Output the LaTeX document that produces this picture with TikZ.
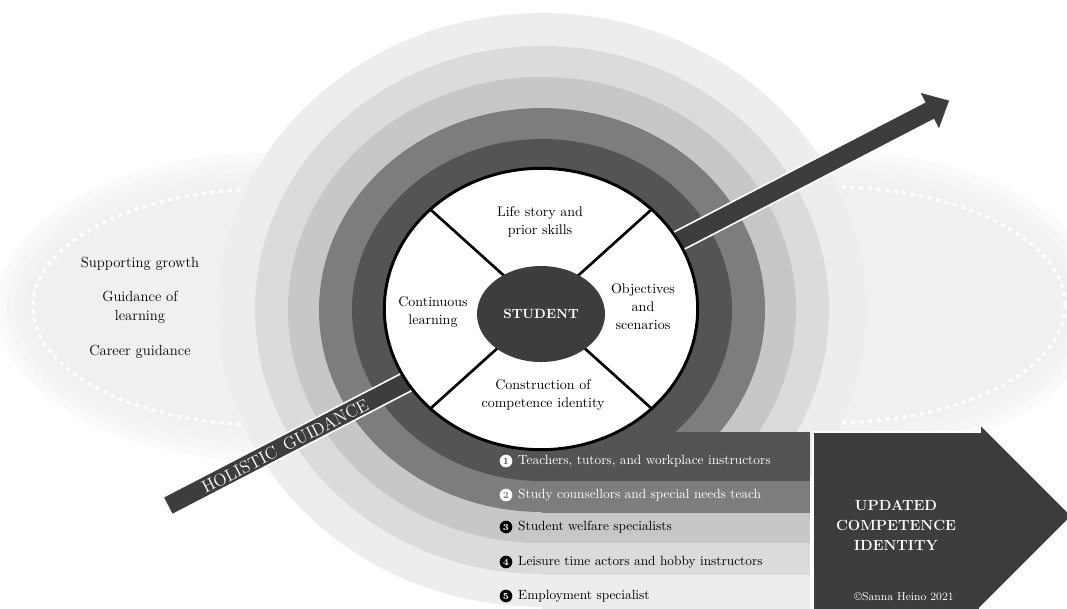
\documentclass[tikz,border=0pt]{standalone}
\usetikzlibrary{positioning, shapes.geometric}
\definecolor{ringA}{gray}{0.33}
\definecolor{ringB}{gray}{0.49}
\definecolor{ringC}{gray}{0.78}
\definecolor{ringD}{gray}{0.86}
\definecolor{ringE}{gray}{0.93}
\definecolor{inkdark}{gray}{0.24}
\definecolor{haze}{gray}{0.93}

\begin{document}
\begin{tikzpicture}[x = 0.75pt, y = -0.75pt,
        cloud/.style = {fill = haze, opacity = 0.3},
        dots/.style = {draw = white, line width = 2.4pt, dash pattern = on 3pt off 3.5pt},
        spoke/.style = {line width = 2pt},
        txt/.style = {align = center, inner sep = 0pt, font = \fontsize{10.5}{13.5}\selectfont},
        num/.style = {circle, fill = #1, inner sep = 0pt, minimum size = 9.5pt, font = \fontsize{7}{7}\selectfont\bfseries},
        role/.style = {anchor = west, inner sep = 0pt, font = \fontsize{10}{12}\selectfont}]

    \useasboundingbox (0, 0) rectangle (1067, 608);

    % hazy ovals left and right
    \foreach \cx/\cy in {268/307, 830/305}{
        \foreach \d in {36, 27, 18, 9, 0}
            \fill[cloud] (\cx, \cy) ellipse [x radius = 235 + \d, y radius = 118 + \d];
        \draw[dots] (\cx, \cy) ellipse [x radius = 235, y radius = 118];
    }

    % rings, each one running out into a band
    \foreach \tone/\rx/\ry/\bot in {ringE/324/297/612, ringD/287/264/575, ringC/254/233/543, ringB/223/202/513, ringA/190/171/481}{
        \fill[\tone] (542, 310) ellipse [x radius = \rx, y radius = \ry];
        \fill[\tone] (542, 432) rectangle (810, \bot);
    }

    % holistic guidance arrow
    \fill[inkdark, draw = white, line width = 1.2pt] (162.9, 497.1) -- (924.4, 102.1) -- (918.9, 91.5) -- (950.3, 100) -- (939.1, 130.5) -- (933.6, 119.9) -- (172.1, 514.9) -- cycle;
    \node[rotate = 27.4, text = white, inner sep = 0pt, font = \fontsize{13}{13}\selectfont] (holistic) at (285, 446) {HOLISTIC\enspace GUIDANCE};

    % wheel
    \node[ellipse, draw, fill = white, line width = 2.2pt, minimum width = 235pt, minimum height = 211pt, inner sep = 0pt] (wheel) at (541, 309) {};
    \foreach \a in {42, 138, 222, 318}
        \draw[spoke] (wheel.center) -- (wheel.\a);
    \node[ellipse, fill = inkdark, text = white, minimum width = 96pt, minimum height = 72pt, font = \fontsize{10}{12}\selectfont\bfseries] (student) at (541, 314) {STUDENT};

    \node[txt] (life) at (540, 222) {Life story and\\prior skills};
    \node[txt] (cont) at (433, 312) {Continuous\\learning};
    \node[txt] (obj) at (643, 307) {Objectives\\and\\scenarios};
    \node[txt] (constr) at (543, 395) {Construction of\\competence identity};

    % guidance forms
    \node[txt, font = \fontsize{11}{14}\selectfont] (growth) at (140, 264) {Supporting growth};
    \node[txt, font = \fontsize{11}{14}\selectfont] (guide) at (140, 307) {Guidance of\\learning};
    \node[txt, font = \fontsize{11}{14}\selectfont] (career) at (140, 352) {Career guidance};

    % actors
    \node[num = white, text = ringA] (n1) at (506, 461) {1};
    \node[num = white, text = ringB] (n2) at (506, 495) {2};
    \node[num = black, text = white] (n3) at (506, 527) {3};
    \node[num = black, text = white] (n4) at (506, 562) {4};
    \node[num = black, text = white] (n5) at (506, 596) {5};
    \node[role, text = white, right = 4pt of n1] (r1) {Teachers, tutors, and workplace instructors};
    \node[role, text = white, right = 4pt of n2] (r2) {Study counsellors and special needs teach};
    \node[role, right = 4pt of n3] (r3) {Student welfare specialists};
    \node[role, right = 4pt of n4] (r4) {Leisure time actors and hobby instructors};
    \node[role, right = 4pt of n5] (r5) {Employment specialist};

    % outcome
    \fill[inkdark, draw = white, line width = 1.2pt] (813, 432) -- (980, 432) -- (980, 424) -- (1072, 516) -- (980, 608) -- (980, 615) -- (813, 615) -- cycle;
    \node[txt, text = white, font = \fontsize{11}{15}\selectfont\bfseries] (updated) at (896, 525) {UPDATED\\COMPETENCE\\IDENTITY};
    \node[txt, text = white, font = \fontsize{8.5}{10}\selectfont] (copy) at (904, 597) {\textcopyright Sanna Heino 2021};
\end{tikzpicture}
\end{document}
